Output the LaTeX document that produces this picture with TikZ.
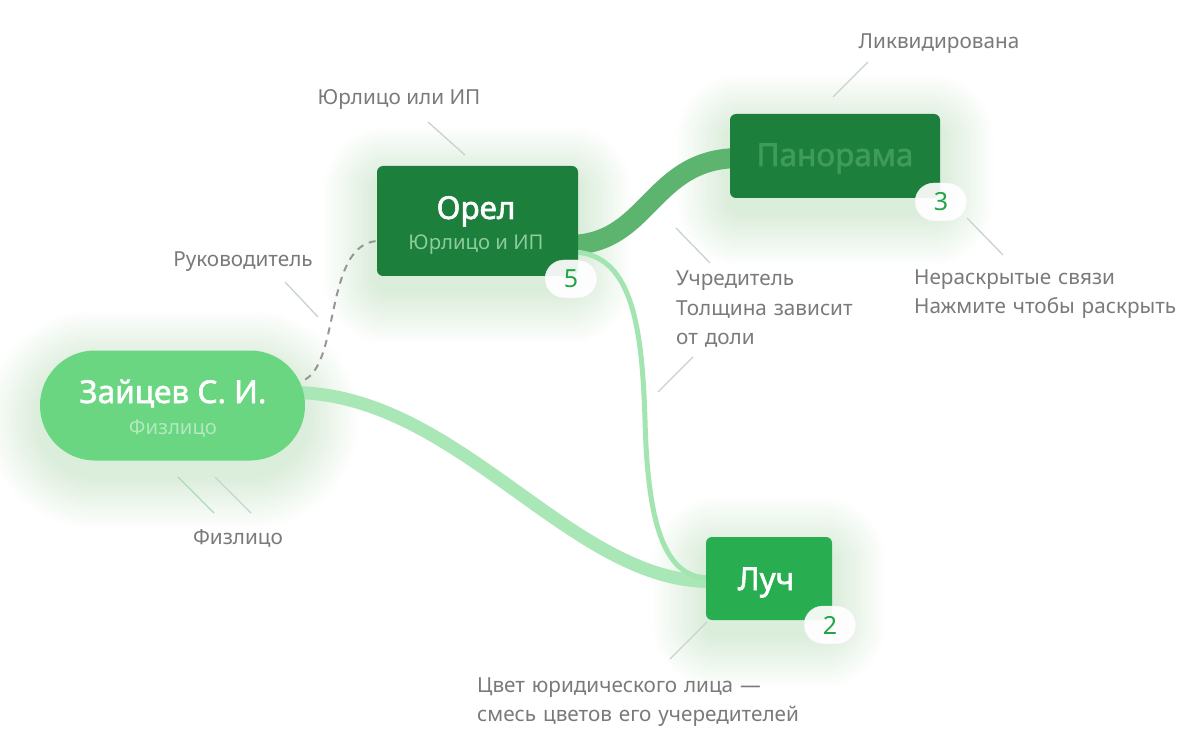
\documentclass[tikz,border=0pt]{standalone}
\usepackage{fontspec}
\setmainfont{Noto Sans}
\newfontface\medfont[FakeBold=1.8]{Noto Sans}
\usetikzlibrary{calc}
\usetikzlibrary{positioning}
\pgfdeclarelayer{background}
\pgfsetlayers{background,main}

% Colours
\definecolor{orelgreen}{RGB}{28,127,60}
\definecolor{luchgreen}{RGB}{40,173,80}
\definecolor{zaitsevgreen}{RGB}{106,214,129}
\definecolor{orelsub}{RGB}{140,204,157}
\definecolor{zaitsevsub}{RGB}{178,233,190}
\definecolor{panoramatext}{RGB}{62,155,88}
\definecolor{bandpanorama}{RGB}{92,180,111}
\definecolor{bandluch}{RGB}{170,231,183}
\definecolor{thinluch}{RGB}{162,229,176}
\definecolor{badgenum}{RGB}{34,164,71}
\definecolor{badgerim}{RGB}{232,238,234}
\definecolor{notegray}{RGB}{122,122,122}
\definecolor{pointergray}{RGB}{201,211,205}
\definecolor{pointergreen}{RGB}{168,221,181}
\definecolor{dashgray}{RGB}{150,150,150}
\definecolor{glowgreen}{RGB}{50,170,80}

\tikzset{
  entity/.style={rounded corners=6pt, inner sep=0pt},
  title/.style={text=white, font=\medfont\fontsize{31.5}{36}\selectfont, anchor=base},
  subtitle/.style={font=\fontsize{20.3}{24}\selectfont, anchor=base},
  badge/.style={fill=white, fill opacity=0.92, draw=badgerim, rounded corners=19pt,
    minimum width=52pt, minimum height=38pt, inner sep=0pt, text=badgenum, text opacity=1,
    font=\fontsize{25}{28}\selectfont},
  note/.style={text=notegray, font=\fontsize{20.7}{29.5}\selectfont, align=left,
    anchor=base west, inner sep=0pt, text width=420pt},
  notec/.style={text=notegray, font=\fontsize{20.7}{24}\selectfont, anchor=base, inner sep=0pt},
  pointer/.style={draw=pointergray, line width=1.3pt},
  band/.style={line cap=round},
}

\begin{document}
\begin{tikzpicture}[x=1pt,y=-1pt]
% Canvas
\useasboundingbox (0,0) rectangle (1200,754);
% Entity boxes
\node[entity, fill=orelgreen, minimum width=201pt, minimum height=110pt] (orel) at (477.5,221) {};
\node[entity, fill=orelgreen, minimum width=210pt, minimum height=84pt] (panorama) at (835,156) {};
\node[entity, fill=luchgreen, minimum width=126pt, minimum height=83pt] (luch) at (769,578.5) {};
\node[fill=zaitsevgreen, rounded corners=55pt, minimum width=265pt, minimum height=110pt,
  inner sep=0pt] (zaitsev) at (172.5,405.5) {};
% Names and types
\node[title] (orelname) at (476,219) {Орел};
\node[subtitle, text=orelsub] (oreltype) at (476,250) {Юрлицо и ИП};
\node[title, text=panoramatext] (panoramaname) at (835,166) {Панорама};
\node[title] (luchname) at (766,590) {Луч};
\node[title] (zaitsevname) at (173,403) {Зайцев С. И.};
\node[subtitle, text=zaitsevsub] (zaitsevtype) at (173,434) {Физлицо};
% Counters of hidden links
\node[badge] (orelcount) at (571,279) {5};
\node[badge] (panoramacount) at (941,202) {3};
\node[badge] (luchcount) at (830,625) {2};

\begin{pgfonlayer}{background}
\fill[white] (0,0) rectangle (1200,754);
% Soft glow under the boxes
\foreach \n/\r in {orel/12, panorama/12, luch/12, zaitsev/55}
  \foreach \g in {3,6,...,54}
    \fill[glowgreen, opacity=0.006, rounded corners={\g pt+\r pt}]
      ([shift={(-\g pt,{-\g pt-14pt})}]\n.south west) rectangle ([shift={(\g pt,{\g pt-14pt})}]\n.north east);
% Links
\draw[band, line width=20pt, draw=bandpanorama] ([shift={(-10pt,-24pt)}]orel.east)
  .. controls (650,245) and (650,158) .. ([shift={(10pt,-2pt)}]panorama.west);
\draw[band, line width=13pt, draw=bandluch] ([shift={(-10pt,13pt)}]zaitsev.east)
  .. controls (460,395) and (570,582) .. ([shift={(5pt,-3pt)}]luch.west);
\draw[band, line width=5pt, draw=thinluch] ([shift={(-5pt,-31pt)}]orel.east)
  .. controls (630,254) and (642,320) .. (645,420)
  .. controls (648,540) and (670,578) .. ([xshift=5pt]luch.west);
\draw[dashgray, line width=2pt, dash pattern=on 7pt off 6pt] ([shift={(0pt,26pt)}]zaitsev.east)
  .. controls (340,360) and (325,245) .. ([yshift=-20pt]orel.west);
\end{pgfonlayer}

% Notes
\node[notec] (legalnote) at (399,105) {Юрлицо или ИП};
\node[notec] (closednote) at (939,49) {Ликвидирована};
\node[notec] (headnote) at (243,267) {Руководитель};
\node[notec] (personnote) at (238,544) {Физлицо};
\node[note] (foundernote) at (676,286) {Учредитель\\Толщина зависит\\от доли};
\node[note, text width=270pt] (hiddennote) at (914,284) {Нераскрытые связи\\Нажмите чтобы раскрыть};
\node[note] (colournote) at (477,692) {Цвет юридического лица —\\смесь цветов его учередителей};
% Leader lines
\foreach \xa/\ya/\xb/\yb in {428/122/465/155, 868/62/833/97, 285/282/318/317,
  676/228/710/263, 693/357/658/392, 967/218/1003/255, 215/477/251/513, 707/622/670/659}
  \draw[pointer] (\xa,\ya) -- (\xb,\yb);
\draw[pointer, draw=pointergreen] (178,477) -- (214,513);
\end{tikzpicture}
\end{document}
